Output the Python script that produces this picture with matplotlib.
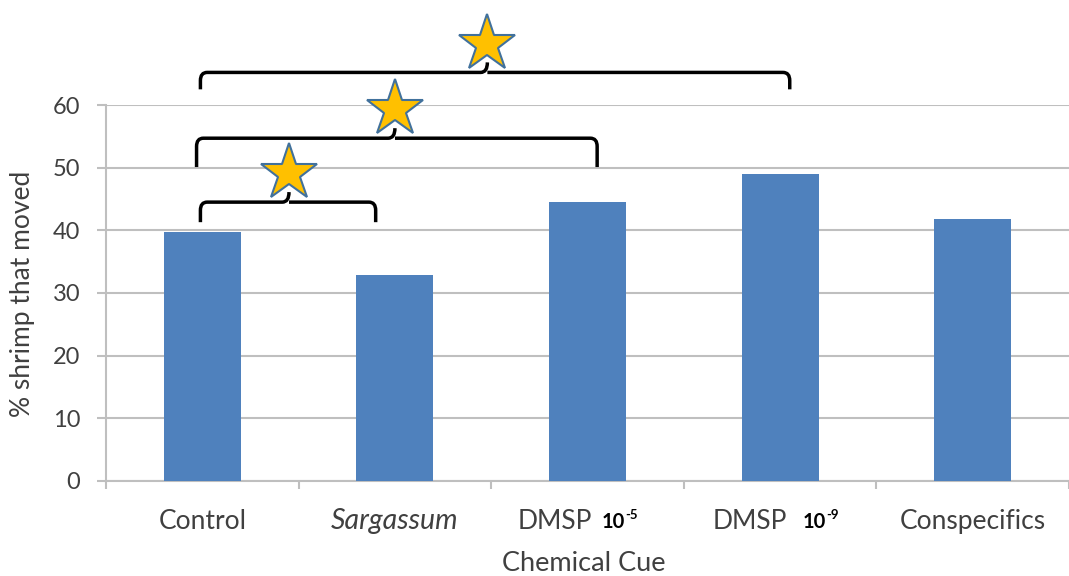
import numpy as np
import matplotlib.pyplot as plt
from matplotlib.path import Path
from matplotlib.patches import PathPatch

# data
cues = ['Control', 'Sargassum', 'DMSP', 'DMSP', 'Conspecifics']
concentration = ['', '', '-5', '-9', '']
percent_moved = [39.7, 32.9, 44.5, 49.0, 41.8]

# significance brackets: (left, right, low end, top line, tick x)
brackets = [(-0.01, 0.90, 41.3, 44.5, 0.45),
            (-0.03, 2.05, 50.1, 54.7, 1.00),
            (-0.01, 3.05, 62.5, 65.2, 1.48)]

text_col = '#404040'
bar_col = '#4F81BD'
grid_col = '#BFBFBF'

plt.rcParams['font.family'] = ['Lato', 'DejaVu Sans']


def bracket(ax, x0, x1, ylo, yhi, xc):
    rx = 0.035
    ry = 1.3
    tick = 1.6
    verts = [(x0, ylo), (x0, yhi - ry), (x0, yhi), (x0 + rx, yhi),
             (xc - rx, yhi), (xc, yhi), (xc, yhi + tick),
             (xc, yhi), (xc + rx, yhi),
             (x1 - rx, yhi), (x1, yhi), (x1, yhi - ry), (x1, ylo)]
    codes = [Path.MOVETO, Path.LINETO, Path.CURVE3, Path.CURVE3,
             Path.LINETO, Path.CURVE3, Path.CURVE3,
             Path.MOVETO, Path.LINETO,
             Path.LINETO, Path.CURVE3, Path.CURVE3, Path.LINETO]
    p = PathPatch(Path(verts, codes), fill=False, lw=2.5, ec='black',
                  clip_on=False, capstyle='butt', joinstyle='round')
    ax.add_patch(p)
    ax.plot([xc], [yhi + tick + 3.0], marker='*', ms=43, mfc='#FFC000',
            mec='#41719C', mew=1.5, clip_on=False, zorder=5)


fig = plt.figure(figsize=(10.69, 5.76), dpi=100)
ax = fig.add_axes([0.0992, 0.165, 0.9008, 0.6527])

x = np.arange(len(cues))
ax.bar(x, percent_moved, width=0.4, color=bar_col, zorder=3)

ax.set_xlim(-0.5, len(cues) - 0.5)
ax.set_ylim(0, 60)
ax.set_yticks(np.arange(0, 61, 10))
ax.yaxis.grid(True, color=grid_col, lw=1.5, zorder=0)
ax.set_axisbelow(True)

for s in ['top', 'right']:
    ax.spines[s].set_visible(False)
for s in ['left', 'bottom']:
    ax.spines[s].set_color(grid_col)
    ax.spines[s].set_linewidth(1.5)

ax.set_xticks(np.arange(-0.5, len(cues), 1.0))
ax.set_xticklabels([])
ax.tick_params(axis='x', direction='out', length=6, color=grid_col, width=1.5)
ax.tick_params(axis='y', direction='out', length=6.5, color=grid_col, width=1.5,
               labelsize=17, labelcolor=text_col, pad=12)

# category labels
sup_pos = {'-5': 10.5, '-9': 16.5}
for i, (name, conc) in enumerate(zip(cues, concentration)):
    if conc:
        ax.annotate(name, xy=(i, 0), xycoords=('data', 'axes fraction'),
                    xytext=(3.5 + (conc == '-9') * 1.5, -34.5), textcoords='offset points',
                    ha='right', va='baseline', fontsize=19, color=text_col)
        ax.annotate('10', xy=(i, 0), xycoords=('data', 'axes fraction'),
                    xytext=(sup_pos[conc], -34), textcoords='offset points',
                    ha='left', va='baseline', fontsize=14.5, weight='bold',
                    color='black')
        ax.annotate(conc, xy=(i, 0), xycoords=('data', 'axes fraction'),
                    xytext=(sup_pos[conc] + 16.5, -27.5), textcoords='offset points',
                    ha='left', va='baseline', fontsize=9.5, weight='bold',
                    color='black')
    elif name == 'Sargassum':
        ax.annotate(name, xy=(i, 0), xycoords=('data', 'axes fraction'),
                    xytext=(0, -34.5), textcoords='offset points',
                    ha='center', va='baseline', fontsize=20.5, color=text_col,
                    style='italic')
    else:
        ax.annotate(name, xy=(i, 0), xycoords=('data', 'axes fraction'),
                    xytext=(0, -34.5), textcoords='offset points',
                    ha='center', va='baseline', fontsize=19, color=text_col)

fig.text(584 / 1069, 5 / 576, 'Chemical Cue', fontsize=19.5, color=text_col,
         ha='center', va='baseline')
fig.text(23 / 1069, 1 - 294 / 576, '% shrimp that moved', fontsize=19,
         color=text_col, rotation=90, ha='center', va='center')

for b in brackets:
    bracket(ax, *b)

fig.savefig('out.png', dpi=100)
